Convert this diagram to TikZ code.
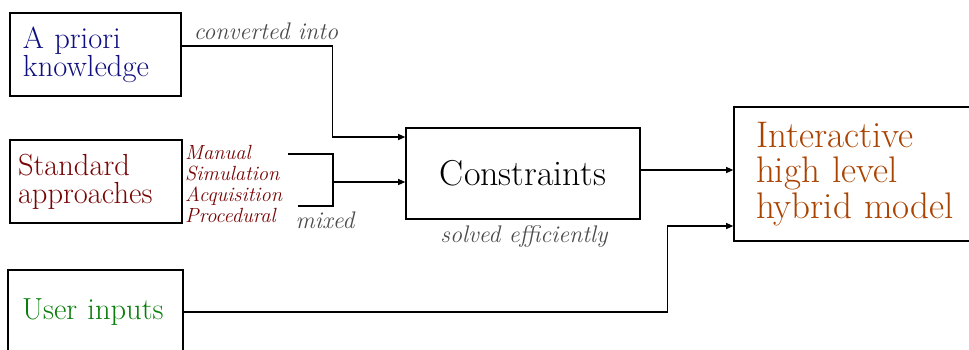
\documentclass[tikz,border=0pt]{standalone}
\usepackage{fontspec}
\usetikzlibrary{arrows.meta}
\definecolor{cblue}{RGB}{15,15,128}
\definecolor{cred}{RGB}{120,5,5}
\definecolor{cgreen}{RGB}{10,125,10}
\definecolor{corange}{RGB}{170,66,0}
\definecolor{cgray}{RGB}{75,75,75}
\tikzset{
  box/.style={draw=black, line width=1.6pt, align=left, inner ysep=0pt},
  conn/.style={draw=black, line width=1.1pt},
  arr/.style={conn, -{Triangle[length=7pt,width=6pt]}},
  note/.style={text=cgray, font=\fontsize{24}{24}\selectfont\itshape, inner sep=0pt},
}
\begin{document}
\begin{tikzpicture}[x=1pt,y=-1pt]
\useasboundingbox (0,0) rectangle (969,349);
\clip (0,0) rectangle (969,349);
% boxes
\node[box, text width=145pt, inner xsep=13pt, minimum height=83pt, text=cblue,
      font=\fontsize{30.5}{28}\selectfont] (apriori) at (95.5,54.5) {A priori\\knowledge};
\node[box, text width=156pt, inner xsep=8pt, minimum height=83pt, text=cred,
      font=\fontsize{30.5}{28}\selectfont] (standard) at (96,181.5) {Standard\\approaches};
\node[box, text width=147pt, inner xsep=14pt, minimum height=84pt, text=cgreen,
      font=\fontsize{30.5}{28}\selectfont] (user) at (95.5,312) {User inputs};
\node[box, align=center, minimum width=234pt, minimum height=91pt,
      font=\fontsize{36}{36}\selectfont] (constraints) at (523,173.5) {Constraints};
\node[box, text width=220pt, inner xsep=22pt, minimum height=134pt, text=corange,
      font=\fontsize{37}{35.5}\selectfont] (hybrid) at (866,174) {Interactive\\high level\\hybrid model};
% labels
\node[note] (conv) at (266,31) {converted into};
\node[anchor=west, align=left, inner sep=0pt, text=cred,
      font=\fontsize{20.5}{21}\selectfont\itshape] (methods) at (185,183.5)
      {Manual\\Simulation\\Acquisition\\Procedural};
\node[note] (mixed) at (325,220) {mixed};
\node[note] (solved) at (524,236) {solved efficiently};
% connectors
\coordinate (bt) at (288,154);
\coordinate (bb) at (298,206);
\coordinate (bm) at (333,182);
\draw[arr] ([yshift=8.5pt]apriori.east) -| ([xshift=-73pt,yshift=36.5pt]constraints.west)
      -- ([yshift=36.5pt]constraints.west);
\draw[conn] (bt) -| (333,206) -- (bb);
\draw[arr] (bm) -- ([yshift=-8.5pt]constraints.west);
\draw[arr] ([yshift=3.5pt]constraints.east) -- ([yshift=4pt]hybrid.west);
\draw[arr] (user.east) -| ([xshift=-66pt,yshift=-52pt]hybrid.west) -- ([yshift=-52pt]hybrid.west);
\end{tikzpicture}
\end{document}
